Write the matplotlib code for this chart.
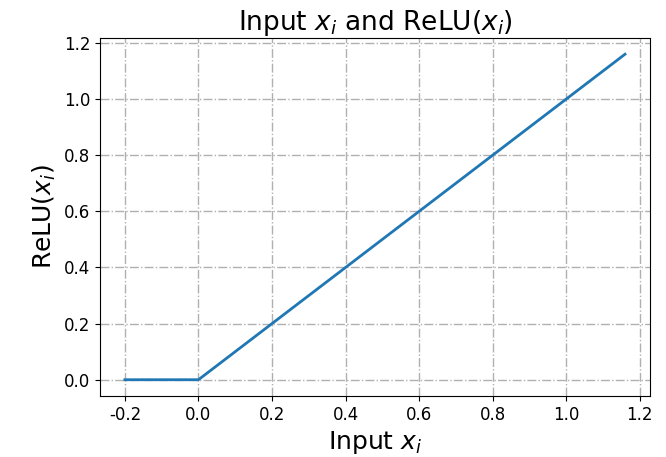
import numpy as np
import matplotlib
matplotlib.use('Agg')
import matplotlib.pyplot as plt

plt.rcParams['axes.unicode_minus'] = False

# input points and relu output
x_in = [-0.2, 0.0, 1.16]
relu_out = [max(0.0, v) for v in x_in]

fig = plt.figure(figsize=(6.66, 4.57), dpi=100)
ax = fig.add_subplot(111)
fig.subplots_adjust(left=0.150, right=0.976, top=0.917, bottom=0.1335)

ax.plot(x_in, relu_out, color='#1f77b4', linewidth=2)
ax.grid(True, linestyle='-.', color='#b0b0b0', linewidth=1)
ax.set_axisbelow(True)

ax.set_xlabel('Input $x_i$', fontsize=18)
ax.set_ylabel('ReLU($x_i$)', fontsize=18)
ax.set_title('Input $x_i$ and ReLU($x_i$)', fontsize=19)
ax.tick_params(labelsize=12)

fig.savefig('out.png', dpi=100)
